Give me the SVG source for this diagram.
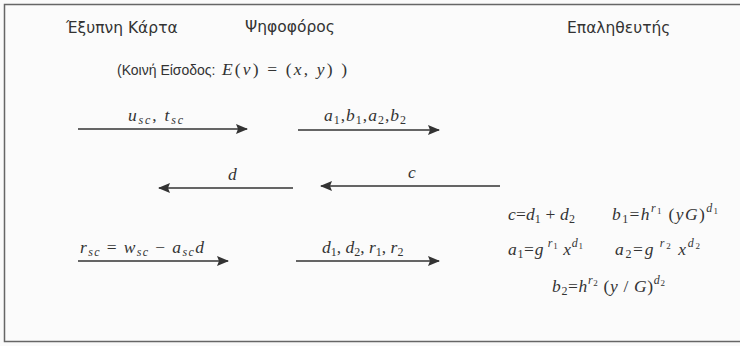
<svg xmlns="http://www.w3.org/2000/svg" width="740" height="346" viewBox="0 0 740 346">
<defs>
<marker id="ah" viewBox="0 0 12 10" refX="11" refY="5" markerWidth="13" markerHeight="10" markerUnits="userSpaceOnUse" orient="auto">
<path d="M0,0 L12,5 L0,10 L2,5 Z" fill="#333"/>
</marker>
</defs>
<style>
.h{font-family:"DejaVu Sans","Liberation Sans",sans-serif;font-size:15.5px;fill:#333}
.s{font-family:"Liberation Sans",Arial,sans-serif;font-size:14px;fill:#333}
.m{font-family:"Liberation Serif","Times New Roman",serif;font-size:17.5px;font-style:italic;fill:#333}
.r{font-style:normal}
.sb{font-size:12px}
.sp{font-size:12px}
.ss{font-size:9px;font-style:normal}
.ln{stroke:#333;stroke-width:1.6;fill:none;marker-end:url(#ah)}
</style>
<rect x="0" y="0" width="740" height="346" fill="#fafafa"/>
<rect x="4.5" y="4.5" width="740" height="337" fill="#fbfbfb" stroke="#666" stroke-width="1.5"/>
<g id="actors">
<text id="smartcard" class="h" x="66" y="33">Έξυπνη Κάρτα</text>
<text id="voter" class="h" x="245" y="32">Ψηφοφόρος</text>
<text id="verifier" class="h" x="567" y="33">Επαληθευτής</text>
</g>
<g id="common">
<text class="s" x="117" y="75">(Κοινή Είσοδος:</text>
<text class="m" x="222" y="75" font-size="16.5" textLength="125" lengthAdjust="spacing">E<tspan class="r">(</tspan>v<tspan class="r">) = (</tspan>x<tspan class="r">, </tspan>y<tspan class="r">) )</tspan></text>
</g>
<g id="connectors">
<line class="ln" x1="78" y1="129" x2="247" y2="129"/>
<line class="ln" x1="298" y1="130" x2="439" y2="130"/>
<line class="ln" x1="293" y1="188" x2="159" y2="188"/>
<line class="ln" x1="500" y1="186" x2="321" y2="186"/>
<line class="ln" x1="78" y1="261" x2="228" y2="261"/>
<line class="ln" x1="296" y1="261" x2="439" y2="261"/>
</g>
<g id="labels">
<text class="m" x="128" y="121" textLength="55" lengthAdjust="spacing">u<tspan class="sb" dy="3">sc</tspan><tspan class="r" dy="-3">, </tspan>t<tspan class="sb" dy="3">sc</tspan></text>
<text class="m" x="324" y="121" textLength="82" lengthAdjust="spacing">a<tspan class="sb r" dy="3">1</tspan><tspan class="r" dy="-3">,</tspan>b<tspan class="sb r" dy="3">1</tspan><tspan class="r" dy="-3">,</tspan>a<tspan class="sb r" dy="3">2</tspan><tspan class="r" dy="-3">,</tspan>b<tspan class="sb r" dy="3">2</tspan></text>
<text class="m" x="228" y="180">d</text>
<text class="m" x="408" y="178">c</text>
<text class="m" x="80" y="253" textLength="124" lengthAdjust="spacing">r<tspan class="sb" dy="3">sc</tspan><tspan class="r" dy="-3"> = </tspan>w<tspan class="sb" dy="3">sc</tspan><tspan class="r" dy="-3"> − </tspan>a<tspan class="sb" dy="3">sc</tspan><tspan dy="-3">d</tspan></text>
<text class="m" x="322" y="253">d<tspan class="sb r" dy="3">1</tspan><tspan class="r" dy="-3">, </tspan>d<tspan class="sb r" dy="3">2</tspan><tspan class="r" dy="-3">, </tspan>r<tspan class="sb r" dy="3">1</tspan><tspan class="r" dy="-3">, </tspan>r<tspan class="sb r" dy="3">2</tspan></text>
</g>
<g id="equations">
<text class="m" x="508" y="220" textLength="67" lengthAdjust="spacing">c<tspan class="r">=</tspan>d<tspan class="sb r" dy="3">1</tspan><tspan class="r" dy="-3"> + </tspan>d<tspan class="sb r" dy="3">2</tspan></text>
<text class="m" x="612" y="220" textLength="106" lengthAdjust="spacing">b<tspan class="sb r" dy="3">1</tspan><tspan class="r" dy="-3">=</tspan>h<tspan class="sp" dy="-8">r</tspan><tspan class="ss" dy="2">1</tspan><tspan class="r" dy="6"> (</tspan>yG<tspan class="r">)</tspan><tspan class="sp" dy="-8">d</tspan><tspan class="ss" dy="2">1</tspan></text>
<text class="m" x="508" y="255" textLength="75" lengthAdjust="spacing">a<tspan class="sb r" dy="3">1</tspan><tspan class="r" dy="-3">=</tspan>g<tspan class="sp" dy="-8"> r</tspan><tspan class="ss" dy="2">1</tspan><tspan dy="6"> x</tspan><tspan class="sp" dy="-8">d</tspan><tspan class="ss" dy="2">1</tspan></text>
<text class="m" x="615" y="255" textLength="85" lengthAdjust="spacing">a<tspan class="sb r" dy="3">2</tspan><tspan class="r" dy="-3">=</tspan>g<tspan class="sp" dy="-8"> r</tspan><tspan class="ss" dy="2">2</tspan><tspan dy="6"> x</tspan><tspan class="sp" dy="-8">d</tspan><tspan class="ss" dy="2">2</tspan></text>
<text class="m" x="552" y="292" textLength="113" lengthAdjust="spacing">b<tspan class="sb r" dy="3">2</tspan><tspan class="r" dy="-3">=</tspan>h<tspan class="sp" dy="-8">r</tspan><tspan class="ss" dy="2">2</tspan><tspan class="r" dy="6"> (</tspan>y<tspan class="r"> / </tspan>G<tspan class="r">)</tspan><tspan class="sp" dy="-8">d</tspan><tspan class="ss" dy="2">2</tspan></text>
</g>
</svg>
